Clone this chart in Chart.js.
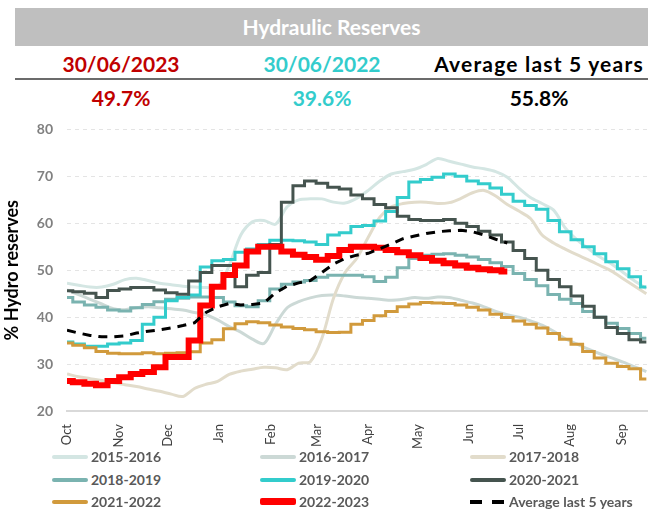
<!DOCTYPE html>
<html>
<head>
<meta charset="utf-8">
<script src="https://cdn.jsdelivr.net/npm/chart.js@4.4.1/dist/chart.umd.min.js"></script>
<style>
  body { margin: 0; background: #fff; font-family: Lato, "Open Sans", sans-serif; }
  #page { position: relative; width: 648px; height: 509px; overflow: hidden; }
  #band { position: absolute; left: 15px; top: 8px; width: 633px; height: 38px; background: #bfbfbf;
          color: #fff; font-weight: bold; font-size: 21px; text-align: center; line-height: 38px; }
  .hd { position: absolute; font-weight: bold; font-size: 21px; text-align: center; width: 220px; }
  #rule { position: absolute; left: 15px; top: 78px; width: 633px; height: 0; border-top: 2px solid #6b6b6b; }
  #chartBox { position: absolute; left: 0; top: 107px; }
  #legend { position: absolute; left: 0; top: 448px; width: 648px; }
  .lg { position: absolute; display: flex; align-items: center; font-weight: bold; font-size: 14px; color: #595959; white-space: nowrap; }
  .lg .sw { width: 36px; margin-right: 3px; }
</style>
</head>
<body>
<div id="page">
  <div id="band">Hydraulic Reserves</div>
  <div class="hd" style="left:11px;top:51px;color:#c00000">30/06/2023</div>
  <div class="hd" style="left:212px;top:51px;color:#33cccc">30/06/2022</div>
  <div class="hd" style="left:419px;top:51px;width:240px;color:#000;letter-spacing:1.2px">Average last 5 years</div>
  <div id="rule"></div>
  <div class="hd" style="left:11px;top:85px;color:#c00000">49.7%</div>
  <div class="hd" style="left:212px;top:85px;color:#33cccc">39.6%</div>
  <div class="hd" style="left:429px;top:85px;color:#000">55.8%</div>
  <div id="chartBox"><canvas id="chart" width="648" height="348"></canvas></div>
  <div id="legend"></div>
</div>
<script>
// hydrological year starts 1 Oct; x = days since 1 Oct
const monthLabels = ['Oct', 'Nov', 'Dec', 'Jan', 'Feb', 'Mar', 'Apr', 'May', 'Jun', 'Jul', 'Aug', 'Sep'];
const monthStartDays = [0, 31, 61, 92, 123, 151, 182, 212, 243, 273, 304, 335];

// weekly sample days
const weekDays = [0, 7, 14, 21, 28, 35, 42, 49, 56, 63, 70, 77, 84, 91, 98, 105, 112, 119, 126, 133,
  140, 147, 154, 161, 168, 175, 182, 189, 196, 203, 210, 217, 224, 231, 238, 245, 252, 259, 266, 273,
  280, 287, 294, 301, 308, 315, 322, 329, 336, 343, 350];

const y2015_2016 = [47.2, 46.8, 46.4, 46.4, 47, 48, 48.3, 47.8, 47.2, 46.9, 46.6, 46.4, 46.3, 46.4, 51, 57.5, 60.3, 60.6, 59.8, 63.5,
  65, 65.2, 65.2, 64.5, 64.3, 65.3, 67, 69, 70.5, 71, 71.5, 72.5, 73.8, 73.2, 72.6, 72, 71.6, 71, 69.8, 67.5,
  65.5, 64.2, 62.8, 59, 56.5, 54.6, 52.8, 51.3, 49.5, 47.7, 46.1];
const y2016_2017 = [45.8, 44.8, 43.8, 42.8, 41.8, 41.6, 42, 42.2, 42, 41.8, 41.5, 41, 40.5, 39.4, 38, 36.8, 35.3, 34.4, 38.5, 42,
  43.3, 44.1, 44.6, 44.7, 44.5, 44.2, 44, 43.8, 43.6, 43.8, 44.2, 44, 44.3, 44.2, 43.6, 43, 42.2, 41.2, 40.5, 40,
  39.2, 38.3, 37, 35.4, 34.3, 33.2, 32.2, 31.3, 30.4, 29.4, 28.4];
const y2017_2018 = [27.9, 27.3, 26.9, 26.5, 26, 25.6, 25.2, 24.7, 24.2, 23.6, 23.1, 24.8, 25.7, 26.3, 27.8, 28.5, 28.9, 29.3, 29.2, 28.8,
  30.2, 30.5, 35.5, 44, 49.5, 52.5, 57, 61.3, 63.5, 64.2, 64.5, 64.5, 64.2, 64.4, 65.3, 66.5, 67, 65.8, 64, 62.6,
  61, 57.5, 55.8, 54.5, 53.3, 52.2, 51, 49.8, 48.2, 46.6, 45];
const y2018_2019 = [44.2, 43.2, 42.6, 42.1, 41.5, 41.3, 42, 42.7, 43.3, 43.8, 44, 44.3, 44.3, 44.2, 43.2, 42.4, 42.2, 43.5, 46, 47,
  47.5, 47.8, 48.5, 48.9, 48.9, 48.9, 48.6, 47.6, 48.5, 50.5, 52.5, 53.2, 53.4, 53.5, 53.2, 52.8, 52.3, 51.6, 50.8, 49.3,
  48, 46.7, 44.8, 43.8, 42.9, 41.2, 40, 38.7, 37.6, 36.5, 35.5];
const y2019_2020 = [34.7, 34.3, 33.8, 33.8, 34.3, 34.5, 35, 38.5, 40, 43.5, 44.2, 44.7, 50.7, 52, 52.3, 53.8, 54.5, 55.5, 56.4, 56.4,
  56.3, 56, 55.5, 57.5, 58, 59.3, 59.5, 60.5, 62.5, 65.5, 68.8, 69.3, 69.8, 70.5, 70, 69, 68.4, 67.5, 66.2, 64.7,
  63.8, 63, 60.6, 58.2, 56.5, 55, 53.5, 51.8, 50.3, 48.6, 46.4];
const y2020_2021 = [45.6, 45.4, 45.1, 44.2, 45.7, 46, 46.3, 46.3, 45.8, 45.2, 44.9, 47.7, 49.5, 51, 51, 46.5, 48.9, 49.5, 55.5, 64.5,
  68, 69, 68.5, 67.7, 67.3, 66, 65.2, 64, 63.3, 61.5, 60.8, 60.6, 60.6, 60.8, 60, 59.3, 58.3, 57.5, 56, 54.2,
  52.5, 50, 48, 46.5, 44.5, 42.3, 40, 37.8, 36.5, 35.2, 34.7];
const y2021_2022 = [34.5, 34, 33.5, 32.7, 32.3, 32.2, 32.2, 32.4, 32.2, 32.3, 32.4, 32.6, 34.5, 35.2, 37.5, 38.6, 39, 38.8, 38.3, 37.9,
  37.6, 37.3, 36.9, 36.7, 36.8, 38.5, 39.3, 40.3, 41.2, 42.2, 42.8, 43.1, 43, 42.9, 42.6, 42.1, 41.5, 40.6, 39.9, 39.2,
  38.5, 37.7, 36.5, 35.3, 34.2, 32.7, 31.3, 30.2, 29.5, 29, 26.8];
const y2022_2023 = [26.4, 26.1, 25.8, 25.5, 26.4, 27.2, 27.9, 28.3, 29.3, 31.5, 31.5, 35, 42.5, 46.5, 49, 51, 54, 55, 55, 54,
  53.3, 52.8, 52.2, 53, 54.3, 55, 55, 54.8, 54.3, 53.8, 53.2, 52.6, 52, 51.5, 51, 50.5, 50.2, 50, 49.7];
const yAverage = [37.2, 36.6, 36.1, 35.8, 35.8, 36, 36.6, 37, 37.3, 37.7, 38.2, 38.8, 41, 42.2, 42.9, 42.6, 42.7, 43, 45.2, 46.6,
  47.3, 47.8, 49.5, 51.3, 52.5, 53.2, 53.6, 54.6, 55.6, 56.7, 57.3, 57.8, 58.2, 58.4, 58.5, 58.2, 57.5, 56.6, 55.8];

const yTicks = [20, 30, 40, 50, 60, 70, 80];

const toPoints = vals => vals.map((v, i) => ({ x: weekDays[i], y: v }));

const series = [
  { label: '2015-2016', data: y2015_2016, color: '#d4e6e3', width: 3, smooth: true },
  { label: '2016-2017', data: y2016_2017, color: '#ccd9d6', width: 3, smooth: true },
  { label: '2017-2018', data: y2017_2018, color: '#e2dccb', width: 3, smooth: true },
  { label: '2018-2019', data: y2018_2019, color: '#7ab3b0', width: 3 },
  { label: '2019-2020', data: y2019_2020, color: '#33cccc', width: 3 },
  { label: '2020-2021', data: y2020_2021, color: '#45544f', width: 3 },
  { label: '2021-2022', data: y2021_2022, color: '#d19a3c', width: 3 },
  { label: '2022-2023', data: y2022_2023, color: '#ff0000', width: 6 },
  { label: 'Average last 5 years', data: yAverage, color: '#000000', width: 3, dash: [9, 7] }
];

const datasets = series.map((s, i) => ({
  label: s.label,
  data: toPoints(s.data),
  borderColor: s.color,
  backgroundColor: s.color,
  borderWidth: s.width,
  borderDash: s.dash || [],
  pointRadius: 0,
  stepped: s.smooth || s.dash ? false : 'middle',
  tension: s.smooth ? 0.3 : 0,
  order: series.length - i
}));

const chart = new Chart(document.getElementById('chart'), {
  type: 'line',
  data: { datasets },
  options: {
    responsive: false,
    animation: false,
    layout: { padding: { top: 6, right: 0, left: 0, bottom: 0 } },
    plugins: { legend: { display: false }, tooltip: { enabled: false } },
    scales: {
      x: {
        type: 'linear',
        min: 0,
        max: 351,
        afterBuildTicks: scale => { scale.ticks = monthStartDays.map(v => ({ value: v })); },
        afterFit: scale => { scale.height = 44; },
        ticks: {
          autoSkip: false,
          minRotation: 90,
          maxRotation: 90,
          padding: 5,
          color: '#404040',
          font: { family: 'Lato', size: 13 },
          callback: v => monthLabels[monthStartDays.indexOf(v)]
        },
        grid: { display: false },
        border: { color: '#d9d9d9', width: 2 }
      },
      y: {
        min: 20,
        max: 80,
        afterBuildTicks: scale => { scale.ticks = yTicks.map(v => ({ value: v })); },
        afterFit: scale => { scale.width = 67; },
        ticks: { color: '#808080', font: { family: 'Lato', size: 14, weight: 'bold' }, padding: 14 },
        grid: { color: '#e4e4e4', drawTicks: false },
        border: { display: false, dash: [4, 4] },
        title: {
          display: true,
          text: '% Hydro reserves',
          color: '#000',
          font: { family: 'Lato', size: 18, weight: 'bold' },
          padding: { top: 1, bottom: 0 }
        }
      }
    }
  }
});

// legend in three columns, built from the datasets
const legendBox = document.getElementById('legend');
const colX = [52, 260, 470];
const rowY = [0, 23, 45];
chart.data.datasets.forEach((ds, i) => {
  const item = document.createElement('div');
  item.className = 'lg';
  item.style.left = colX[i % 3] + 'px';
  item.style.top = rowY[Math.floor(i / 3)] + 'px';
  const sw = document.createElement('span');
  sw.className = 'sw';
  sw.style.height = Math.max(ds.borderWidth + 1, 4) + 'px';
  if (ds.borderDash.length) {
    sw.style.background = 'linear-gradient(to right, #000 0 12px, transparent 12px 22px, #000 22px 34px, transparent 34px)';
  } else {
    sw.style.background = ds.borderColor;
    sw.style.borderRadius = '2px';
  }
  item.appendChild(sw);
  item.appendChild(document.createTextNode(ds.label));
  legendBox.appendChild(item);
});
</script>
</body>
</html>
